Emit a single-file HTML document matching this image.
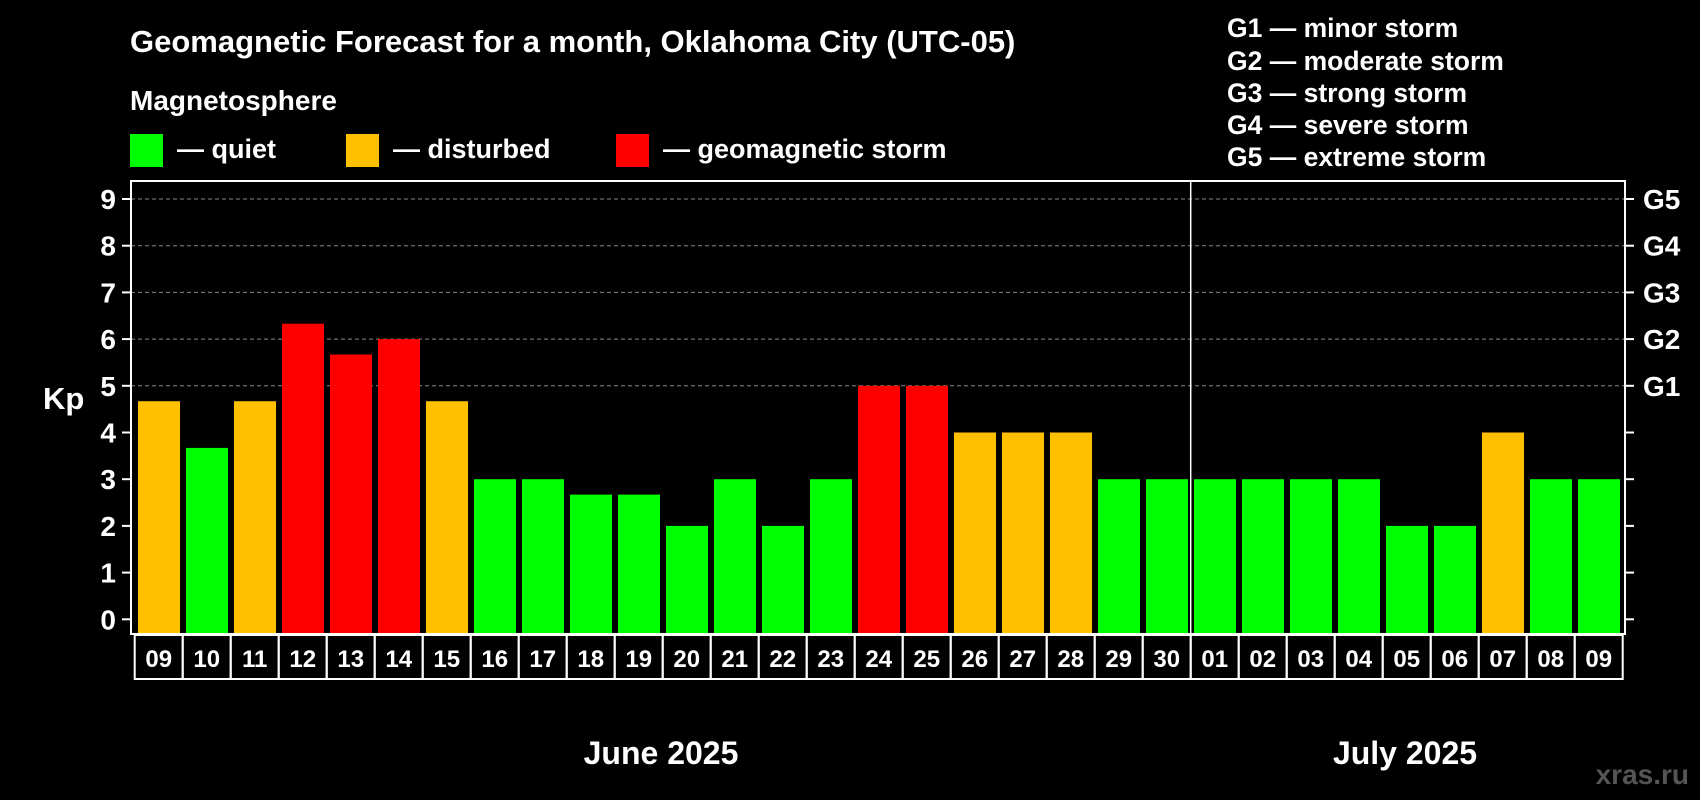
<!DOCTYPE html>
<html><head><meta charset="utf-8"><style>
body{margin:0;background:#000;}
svg{display:block;font-family:"Liberation Sans",sans-serif;font-weight:bold;}
</style></head><body>
<svg id="chart" width="1700" height="800" viewBox="0 0 1700 800">
<rect width="1700" height="800" fill="#000"/>
<text x="130" y="52" fill="#fff" font-size="31">Geomagnetic Forecast for a month, Oklahoma City (UTC-05)</text>
<text x="130" y="110" fill="#fff" font-size="28">Magnetosphere</text>
<rect x="130" y="134" width="33" height="33" fill="#00ff00"/>
<text x="177" y="158" fill="#fff" font-size="27">— quiet</text>
<rect x="346" y="134" width="33" height="33" fill="#ffc000"/>
<text x="393" y="158" fill="#fff" font-size="27">— disturbed</text>
<rect x="616" y="134" width="33" height="33" fill="#ff0000"/>
<text x="663" y="158" fill="#fff" font-size="27">— geomagnetic storm</text>
<g fill="#fff" font-size="26.5">
<text x="1227" y="37">G1 — minor storm</text>
<text x="1227" y="70">G2 — moderate storm</text>
<text x="1227" y="102">G3 — strong storm</text>
<text x="1227" y="134">G4 — severe storm</text>
<text x="1227" y="166">G5 — extreme storm</text>
</g>
<text x="43" y="409" fill="#fff" font-size="31">Kp</text>
<text x="661" y="764" fill="#fff" font-size="32" text-anchor="middle">June 2025</text>
<text x="1405" y="764" fill="#fff" font-size="32" text-anchor="middle">July 2025</text>
<text x="1689" y="784" fill="#555" font-size="28" text-anchor="end">xras.ru</text>
<g id="plot"></g>
</svg>
<script>
const days=["09","10","11","12","13","14","15","16","17","18","19","20","21","22","23","24","25","26","27","28","29","30","01","02","03","04","05","06","07","08","09"];
const kp=[4.67,3.67,4.67,6.33,5.67,6,4.67,3,3,2.67,2.67,2,3,2,3,5,5,4,4,4,3,3,3,3,3,3,2,2,4,3,3];
const yTicks=[0,1,2,3,4,5,6,7,8,9];
const gLabels=["","","","","","G1","G2","G3","G4","G5"];
const NS="http://www.w3.org/2000/svg";
const g=document.getElementById('plot');
const x0=134.7,colW=48,plotL=131,plotR=1625,plotT=181,plotB=634;
const y=v=>619.3-v*46.7;
const xc=i=>x0+colW*i;
function mk(t,a){const e=document.createElementNS(NS,t);for(const k in a)e.setAttribute(k,a[k]);g.appendChild(e);return e;}
yTicks.forEach((v,i)=>{
  if(v>=5){const l=mk('line',{x1:plotL,x2:plotR,y1:y(v),y2:y(v),stroke:'#888','stroke-dasharray':'4,3','stroke-width':1});
  
  }
  const t1=mk('line',{x1:plotL-9,x2:plotL,y1:y(v),y2:y(v),stroke:'#fff','stroke-width':2});
  
  
  const t2=mk('line',{x1:plotR,x2:plotR+9,y1:y(v),y2:y(v),stroke:'#fff','stroke-width':2});
  
  
  const lb=mk('text',{x:116,y:y(v)+10,fill:'#fff','font-size':28,'text-anchor':'end'});lb.textContent=v;
  
  
  if(gLabels[i]){const gl=mk('text',{x:1643,y:y(v)+10,fill:'#fff','font-size':28});gl.textContent=gLabels[i];
  
  }
});
kp.forEach((v,i)=>{
  const c=v>=5?'#ff0000':(v>=4?'#ffc000':'#00ff00');
  const b=mk('rect',{x:xc(i)+3.3,y:y(v),width:42,height:plotB-y(v),fill:c});
  
  
  const bx=mk('rect',{x:xc(i),y:635,width:colW,height:44,fill:'none',stroke:'#fff','stroke-width':2});
  
  
  const t=mk('text',{x:xc(i)+24,y:667,fill:'#fff','font-size':24,'text-anchor':'middle'});t.textContent=days[i];
  
  
});
const fr=mk('rect',{x:plotL,y:plotT,width:plotR-plotL,height:plotB-plotT,fill:'none',stroke:'#fff','stroke-width':2});


const dv=mk('line',{x1:xc(22),x2:xc(22),y1:plotT,y2:plotB,stroke:'#fff','stroke-width':1.5});


</script>
</body></html>
